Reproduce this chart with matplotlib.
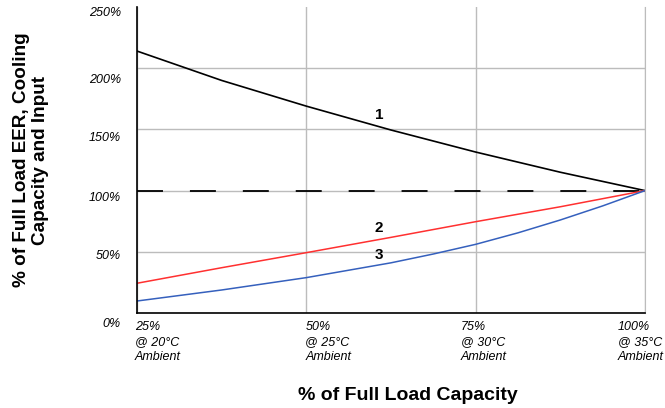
"""
Part-load EER / capacity / input chart
"""
import matplotlib
matplotlib.use('Agg')
import matplotlib.pyplot as plt
import matplotlib.transforms as mtransforms

plt.rcParams['font.family'] = ['Liberation Sans', 'DejaVu Sans']
plt.rcParams['lines.scale_dashes'] = False

# Data
load_pct = [25, 37.5, 50, 62.5, 75, 87.5, 100]
eer = [214, 190, 169, 149.5, 131.5, 115, 100]               # curve 1
capacity = [24.3, 37, 49.3, 61.8, 74.6, 86.8, 100]          # curve 2
input_pct = [25, 37.5, 50, 62.5, 68.75, 75, 81.25, 87.5, 93.75, 100]
power_input = [9.8, 18.8, 28.9, 41, 48.2, 56.1, 65.5, 76, 87.5, 100]  # curve 3
full_load_ref = 100

x_ticks = [25, 50, 75, 100]
x_ticklabels = ['25%\n@ 20°C\nAmbient', '50%\n@ 25°C\nAmbient',
                '75%\n@ 30°C\nAmbient', '100%\n@ 35°C\nAmbient']
y_ticks = [0, 50, 100, 150, 200, 250]
y_ticklabels = ['0%', '50%', '100%', '150%', '200%', '250%']

curve_labels = [('1', 60.7, 161.8), ('2', 60.7, 69.4), ('3', 60.7, 47.4)]

fig = plt.figure(figsize=(6.65, 4.08), dpi=100)
ax = fig.add_axes([137 / 665, 95 / 408, 508 / 665, 306 / 408])

ax.set_xlim(25, 100)
ax.set_ylim(0, 250)

ax.set_xticks(x_ticks)
ax.set_yticks(y_ticks)
ax.grid(True, color='#bcbcbc', linewidth=1.0)
ax.get_ygridlines()[-1].set_visible(False)
ax.set_axisbelow(True)

ax.spines['top'].set_visible(False)
ax.spines['right'].set_color('#bcbcbc')
ax.spines['left'].set_linewidth(1.2)
ax.spines['bottom'].set_linewidth(1.2)

ax.tick_params(length=0)
ax.set_xticklabels(x_ticklabels, fontsize=9, style='italic', ha='left',
                   linespacing=1.35)
ax.set_yticklabels(y_ticklabels, fontsize=9, style='italic', va='center')
ax.tick_params(axis='y', pad=11.5)
ax.tick_params(axis='x', pad=5.5)

# nudge tick labels (pixels) to where the reference has them
x_shift = [-2, -1, -15, -27]
y_shift = [-11, -4.5, -7, -9, -12, -5.5]
for lbl, dx in zip(ax.get_xticklabels(), x_shift):
    lbl.set_transform(lbl.get_transform()
                      + mtransforms.ScaledTranslation(dx / 100, 0, fig.dpi_scale_trans))
for lbl, dy in zip(ax.get_yticklabels(), y_shift):
    lbl.set_transform(lbl.get_transform()
                      + mtransforms.ScaledTranslation(0, dy / 100, fig.dpi_scale_trans))

ax.axhline(full_load_ref, color='black', linewidth=1.3, dashes=(18.7, 19.4))
ax.plot(load_pct, eer, color='black', linewidth=1.2)
ax.plot(load_pct, capacity, color='#ff3030', linewidth=1.1)
ax.plot(input_pct, power_input, color='#3560bd', linewidth=1.1)

for txt, xx, yy in curve_labels:
    ax.text(xx, yy, txt, fontsize=11, fontweight='bold', ha='center', va='center')

fig.text(408 / 665, 13 / 408, '% of Full Load Capacity', fontsize=14,
         fontweight='bold', ha='center', va='center')
fig.text(31 / 665, (408 - 160) / 408, '% of Full Load EER, Cooling\nCapacity and Input',
         fontsize=13.6, fontweight='bold', ha='center', va='center',
         rotation=90, linespacing=1.1)

fig.savefig('out.png', dpi=100, facecolor='white')
